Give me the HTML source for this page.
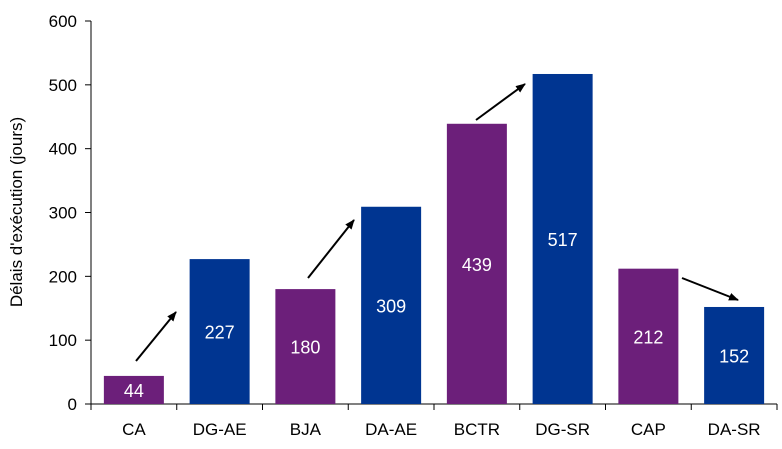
<!DOCTYPE html>
<html><head><meta charset="utf-8"><style>
body{margin:0;background:#fff}
text{font-family:"Liberation Sans",sans-serif}
</style></head><body>
<svg id="c" width="782" height="444">
<defs><marker id="ah" markerWidth="10" markerHeight="8" refX="9" refY="4" orient="auto" markerUnits="userSpaceOnUse" viewBox="0 0 10 8"><path d="M0,0L10,4L0,8z" fill="#000"/></marker></defs>
<text transform="translate(22,212) rotate(-90)" text-anchor="middle" font-size="17">Délais d'exécution  (jours)</text>
</svg>
<script>
const categories=["CA","DG-AE","BJA","DA-AE","BCTR","DG-SR","CAP","DA-SR"];
const values=[44,227,180,309,439,517,212,152];
const barColors=["#6c1f7a","#003591","#6c1f7a","#003591","#6c1f7a","#003591","#6c1f7a","#003591"];
const yTicks=[0,100,200,300,400,500,600];
const svg=document.getElementById('c');
const NS="http://www.w3.org/2000/svg";
const x0=91,x1=777,y0=404,y1=21,yMax=600;
const bw=(x1-x0)/categories.length;
const y=v=>y0-(v/yMax)*(y0-y1);
const xc=i=>x0+bw*(i+0.5);
function mk(t,a){const e=document.createElementNS(NS,t);for(const k in a)e.setAttribute(k,a[k]);svg.appendChild(e);return e;}
let ax=mk('line',{x1:x0,y1:y1,x2:x0,y2:y0,stroke:'#000','stroke-width':1});


let bx=mk('line',{x1:x0,y1:y0,x2:x1,y2:y0,stroke:'#000','stroke-width':1});


yTicks.forEach(t=>{
  let l=mk('line',{x1:x0-6,y1:y(t),x2:x0,y2:y(t),stroke:'#000'});
  
  
  let tx=mk('text',{x:x0-14,y:y(t)+6,'text-anchor':'end','font-size':17});
  tx.textContent=t;
  
  
});
for(let i=0;i<=categories.length;i++){
  let l=mk('line',{x1:x0+bw*i,y1:y0,x2:x0+bw*i,y2:y0+6,stroke:'#000'});
  
  
}
categories.forEach((c,i)=>{
  const v=values[i];
  let r=mk('rect',{x:xc(i)-30,y:y(v),width:60,height:y0-y(v),fill:barColors[i]});
  
  
  let vl=mk('text',{x:xc(i),y:(y(v)+y0)/2+7,'text-anchor':'middle','font-size':18,fill:'#fff'});
  vl.textContent=v;
  
  
  let cl=mk('text',{x:xc(i),y:435,'text-anchor':'middle','font-size':17});
  cl.textContent=c;
  
  
});
const arrows=[[136,361,176,312],[308,278,354,220],[476,120,525,84],[682,278,738,300]];
arrows.forEach(a=>{
  let l=mk('line',{x1:a[0],y1:a[1],x2:a[2],y2:a[3],stroke:'#000','stroke-width':2,'marker-end':'url(#ah)'});
  
  
});
</script>
</body></html>
